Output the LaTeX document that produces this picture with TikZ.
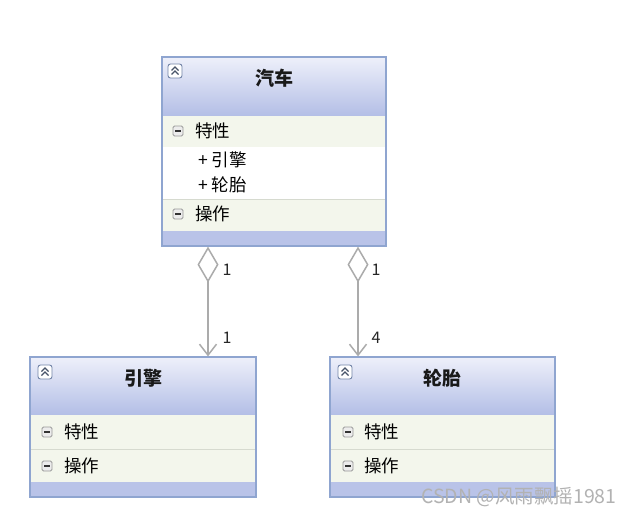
\documentclass[tikz,border=0pt]{standalone}
\usepackage{fontspec}
\setmainfont{Noto Sans CJK SC}
\usetikzlibrary{arrows.meta}
\definecolor{frame}{HTML}{8FA5D0}
\definecolor{hdtop}{HTML}{EEF0FA}
\definecolor{hdbot}{HTML}{B3BEE6}
\definecolor{rowbg}{HTML}{F3F6EC}
\definecolor{sepc}{HTML}{D6DACF}
\definecolor{barc}{HTML}{B9C3E8}
\definecolor{linec}{HTML}{ABABAB}
\newcommand\collapseicon[2]{%
  \draw[frame!80!black, fill=white, rounded corners=2.5pt, line width=0.9pt] (#1-7,#2-7) rectangle (#1+7,#2+7);
  \draw[frame!50!black, line width=1.2pt] (#1-3.5,#2-0.5) -- (#1,#2-4) -- (#1+3.5,#2-0.5)
        (#1-3.5,#2+3.5) -- (#1,#2) -- (#1+3.5,#2+3.5);}
\newcommand\minusicon[2]{%
  \draw[gray!80, fill=gray!15, rounded corners=1.5pt, line width=0.9pt] (#1-5,#2-5) rectangle (#1+5,#2+5);
  \draw[black!80, line width=1.2pt] (#1-3,#2) -- (#1+3,#2);}
\begin{document}
\begin{tikzpicture}[x=1pt,y=-1pt,
  classframe/.style={draw=frame, line width=1.2pt, rectangle, inner sep=0pt},
  title/.style={font=\fontsize{19}{22}\selectfont\bfseries, text=black!90},
  row/.style={font=\fontsize{17.5}{20}\selectfont, anchor=west, inner sep=0pt, text=black},
  conn/.style={draw=linec, line width=1.8pt, {Diamond[open,length=36pt,width=21pt,line width=1.5pt]}-{Straight Barb[length=11pt,width=17pt,line width=1.5pt]}},
  lbl/.style={font=\fontsize{16}{18}\selectfont, text=black!85, inner sep=0pt}]
\useasboundingbox (0,0) rectangle (636,516);
\fill[white] (0,0) rectangle (636,516);

% ---- car (top) ----
\shade[top color=hdtop, bottom color=hdbot] (162,57) rectangle (386,116);
\fill[rowbg] (162,116) rectangle (386,147);
\fill[white] (162,147) rectangle (386,199);
\fill[rowbg] (162,199) rectangle (386,231);
\fill[barc] (162,231) rectangle (386,246);
\draw[sepc, line width=0.8pt] (162,199) -- (386,199);
\node[classframe, minimum width=224pt, minimum height=189pt] (car) at (274,151.5) {};
\collapseicon{175}{71}
\node[title] (carT) at (274,78) {汽车};
\minusicon{178}{131}
\node[row] (carA) at (195,131) {特性};
\node[row] (carA1) at (198,160) {+ 引擎};
\node[row] (carA2) at (198,185) {+ 轮胎};
\minusicon{178}{214}
\node[row] (carO) at (195,214) {操作};

% ---- engine (bottom left) ----
\shade[top color=hdtop, bottom color=hdbot] (30,357) rectangle (256,415);
\fill[rowbg] (30,415) rectangle (256,482);
\fill[barc] (30,482) rectangle (256,497);
\draw[sepc, line width=0.8pt] (30,449) -- (256,449);
\node[classframe, minimum width=226pt, minimum height=140pt] (engine) at (143,427) {};
\collapseicon{45}{372}
\node[title] (engT) at (143,378) {引擎};
\minusicon{47}{432}
\node[row] (engA) at (64,432) {特性};
\minusicon{47}{466}
\node[row] (engO) at (64,466) {操作};

% ---- tire (bottom right) ----
\shade[top color=hdtop, bottom color=hdbot] (330,357) rectangle (555,415);
\fill[rowbg] (330,415) rectangle (555,482);
\fill[barc] (330,482) rectangle (555,497);
\draw[sepc, line width=0.8pt] (330,449) -- (555,449);
\node[classframe, minimum width=225pt, minimum height=140pt] (tire) at (442.5,427) {};
\collapseicon{345}{372}
\node[title] (tireT) at (442.5,378) {轮胎};
\minusicon{348}{432}
\node[row] (tireA) at (364,432) {特性};
\minusicon{348}{466}
\node[row] (tireO) at (364,466) {操作};

% ---- connectors ----
\draw[conn] ([xshift=-66pt]car.south) -- ([xshift=65pt]engine.north);
\draw[conn] ([xshift=84pt]car.south) -- ([xshift=-84.5pt]tire.north);
\node[lbl] (l1) at (227,270) {1};
\node[lbl] (l2) at (227,338) {1};
\node[lbl] (l3) at (376,270) {1};
\node[lbl] (l4) at (376,338) {4};

% ---- watermark ----
\node[font=\fontsize{19.5}{22}\selectfont, text=gray!60, inner sep=0pt] (wm) at (519,497) {CSDN @风雨飘摇1981};
\end{tikzpicture}
\end{document}
